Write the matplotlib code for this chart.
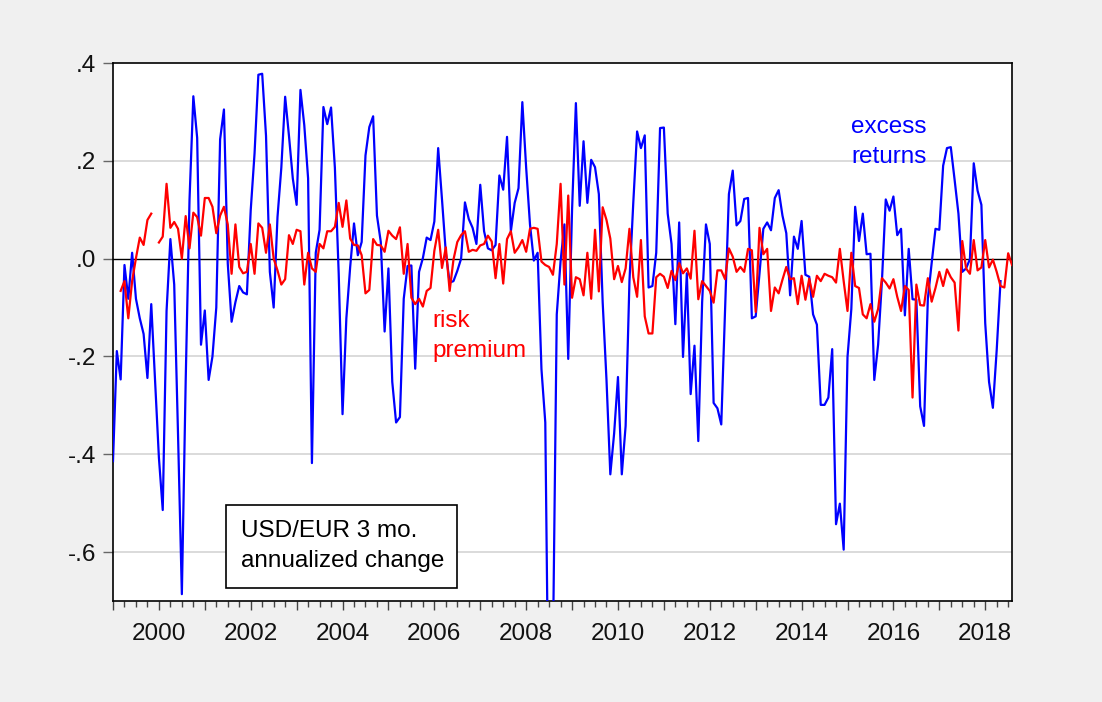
import numpy as np
import matplotlib
matplotlib.use("Agg")
import matplotlib.pyplot as plt
from matplotlib.patches import Rectangle
from matplotlib.ticker import FixedLocator, FixedFormatter

nan = np.nan
start_year = 1999
n_months = 236

excess_returns = [
    -0.414, -0.189, -0.247, -0.013, -0.082, 0.012, -0.082, -0.122, -0.154, -0.244,
    -0.093, -0.250, -0.407, -0.514, -0.107, 0.040, -0.053, -0.360, -0.686, -0.250,
    0.120, 0.332, 0.247, -0.176, -0.106, -0.248, -0.200, -0.100, 0.244, 0.305,
    -0.010, -0.129, -0.089, -0.056, -0.069, -0.073, 0.099, 0.215, 0.376, 0.378,
    0.251, -0.027, -0.100, 0.085, 0.186, 0.331, 0.251, 0.164, 0.110, 0.345,
    0.273, 0.164, -0.418, 0.012, 0.059, 0.310, 0.275, 0.309, 0.186, -0.031,
    -0.318, -0.122, -0.017, 0.072, 0.007, 0.034, 0.211, 0.269, 0.291, 0.088,
    0.034, -0.149, -0.020, -0.252, -0.335, -0.324, -0.082, -0.015, -0.014, -0.225,
    -0.027, 0.001, 0.043, 0.038, 0.076, 0.226, 0.121, 0.012, -0.049, -0.046,
    -0.025, 0.000, 0.115, 0.081, 0.063, 0.030, 0.151, 0.056, 0.021, 0.017,
    0.028, 0.170, 0.141, 0.249, 0.056, 0.114, 0.144, 0.320, 0.186, 0.070,
    -0.004, 0.012, -0.226, -0.335, -1.050, -0.800, -0.114, -0.005, 0.070, -0.205,
    0.100, 0.318, 0.108, 0.240, 0.114, 0.202, 0.187, 0.132, -0.089, -0.248,
    -0.441, -0.357, -0.242, -0.441, -0.342, -0.046, 0.114, 0.260, 0.226, 0.252,
    -0.059, -0.056, 0.012, 0.267, 0.268, 0.092, 0.030, -0.134, 0.074, -0.201,
    -0.030, -0.277, -0.178, -0.373, -0.089, 0.070, 0.030, -0.295, -0.306, -0.339,
    -0.103, 0.132, 0.180, 0.068, 0.077, 0.122, 0.124, -0.122, -0.118, -0.030,
    0.061, 0.074, 0.058, 0.124, 0.140, 0.088, 0.052, -0.075, 0.045, 0.020,
    0.077, -0.033, -0.037, -0.114, -0.135, -0.299, -0.299, -0.284, -0.185, -0.543,
    -0.501, -0.595, -0.201, -0.103, 0.106, 0.036, 0.092, 0.009, 0.010, -0.248,
    -0.176, -0.046, 0.121, 0.098, 0.127, 0.048, 0.061, -0.116, 0.020, -0.083,
    -0.084, -0.302, -0.342, -0.082, -0.009, 0.061, 0.059, 0.190, 0.226, 0.228,
    0.161, 0.092, -0.027, -0.020, -0.001, 0.195, 0.139, 0.110, -0.132, -0.252,
    -0.305, -0.187, -0.046, nan, nan, nan,
]

risk_premium = [
    0.027, nan, -0.066, -0.046, -0.122, -0.046, 0.001, 0.043, 0.028, 0.079,
    0.092, nan, 0.033, 0.045, 0.153, 0.063, 0.075, 0.061, 0.000, 0.087,
    0.021, 0.094, 0.085, 0.047, 0.124, 0.124, 0.106, 0.052, 0.088, 0.106,
    0.070, -0.031, 0.070, -0.017, -0.030, -0.027, 0.030, -0.031, 0.072, 0.063,
    0.012, 0.070, 0.000, -0.024, -0.053, -0.042, 0.048, 0.030, 0.059, 0.056,
    -0.053, 0.012, -0.020, -0.027, 0.030, 0.021, 0.056, 0.056, 0.065, 0.114,
    0.065, 0.119, 0.041, 0.028, 0.027, 0.007, -0.071, -0.064, 0.040, 0.028,
    0.027, 0.014, 0.057, 0.047, 0.040, 0.064, -0.031, 0.030, -0.080, -0.093,
    -0.082, -0.098, -0.066, -0.060, 0.016, 0.059, -0.019, 0.023, -0.066, -0.002,
    0.034, 0.048, 0.056, 0.014, 0.018, 0.016, 0.027, 0.030, 0.047, 0.035,
    -0.040, 0.030, -0.051, 0.040, 0.056, 0.012, 0.023, 0.038, 0.014, 0.061,
    0.063, 0.061, -0.006, -0.013, -0.017, -0.033, 0.030, 0.153, -0.053, 0.129,
    -0.080, -0.038, -0.042, -0.075, 0.012, -0.082, 0.059, -0.067, 0.105, 0.079,
    0.041, -0.042, -0.015, -0.048, -0.020, 0.061, -0.038, -0.078, 0.038, -0.118,
    -0.153, -0.153, -0.038, -0.031, -0.037, -0.060, -0.025, -0.044, -0.009, -0.030,
    -0.020, -0.041, 0.057, -0.083, -0.046, -0.056, -0.066, -0.090, -0.024, -0.024,
    -0.042, 0.021, 0.004, -0.027, -0.017, -0.027, 0.020, 0.017, -0.109, 0.063,
    0.009, 0.020, -0.107, -0.059, -0.071, -0.043, -0.017, -0.042, -0.040, -0.093,
    -0.035, -0.084, -0.041, -0.078, -0.035, -0.046, -0.031, -0.035, -0.038, -0.049,
    0.020, -0.046, -0.107, 0.012, -0.056, -0.060, -0.114, -0.122, -0.093, -0.129,
    -0.103, -0.040, -0.049, -0.061, -0.042, -0.078, -0.107, -0.056, -0.064, -0.284,
    -0.053, -0.095, -0.096, -0.040, -0.088, -0.060, -0.027, -0.056, -0.022, -0.038,
    -0.049, -0.147, 0.036, -0.020, -0.031, 0.038, -0.024, -0.018, 0.038, -0.018,
    -0.002, -0.027, -0.056, -0.059, 0.011, -0.013,
]

y_ticks = [-0.6, -0.4, -0.2, 0.0, 0.2, 0.4]
y_tick_labels = ["-.6", "-.4", "-.2", ".0", ".2", ".4"]
label_years = list(range(2000, 2019, 2))

t = start_year + np.arange(n_months) / 12.0
xr = np.array(excess_returns, dtype=float)
rp = np.array(risk_premium, dtype=float)

W, H = 1102, 702
fig = plt.figure(figsize=(W / 100, H / 100), dpi=100)
fig.patch.set_facecolor("#f0f0f0")
ax = fig.add_axes([113 / W, 1 - 601 / H, (1012 - 113) / W, (601 - 63) / H])
ax.set_facecolor("white")

FONT = "Liberation Sans"
FS = 17.5

for yv in y_ticks:
    if yv not in (0.0, 0.4):
        ax.axhline(yv, color="#d4d4d4", lw=1.2, zorder=1)
ax.axhline(0.0, color="black", lw=1.0, zorder=2)

ax.plot(t, xr, color="#0000ff", lw=1.6, zorder=3)
ax.plot(t, rp, color="#ff0000", lw=1.6, zorder=4)

ax.set_xlim(t[0], t[-1])
ax.set_ylim(-0.7, 0.4)

major_years = list(range(1999, 2019))
ax.xaxis.set_major_locator(FixedLocator(major_years))
ax.xaxis.set_major_formatter(FixedFormatter([str(y) if y in label_years else "" for y in major_years]))
ax.xaxis.set_minor_locator(FixedLocator([y + q / 4 for y in major_years for q in range(1, 4)]))
ax.yaxis.set_major_locator(FixedLocator(y_ticks))
ax.yaxis.set_major_formatter(FixedFormatter(y_tick_labels))

ax.tick_params(axis="x", which="major", direction="out", length=6.5, width=1.0, color="#444444", pad=9)
ax.tick_params(axis="x", which="minor", direction="out", length=4, width=1.0, color="#444444")
ax.tick_params(axis="y", which="major", direction="out", length=7, width=1.0, color="#666666", pad=5)
for lbl in ax.get_xticklabels() + ax.get_yticklabels():
    lbl.set_fontfamily(FONT)
    lbl.set_fontsize(FS)
    lbl.set_color("#111111")

for s in ax.spines.values():
    s.set_color("black")
    s.set_linewidth(1.2)

def px2data(px, py):
    x = start_year + (px - 114) / 45.9
    y = 0.4 - (py - 63) / 538 * 1.1
    return x, y

x0, y0 = px2data(852, 142)
ax.text(x0, y0, "excess\nreturns", color="#0000ff", fontsize=FS, family=FONT,
        ha="left", va="center", linespacing=1.45, zorder=5)
x1, y1 = px2data(433, 336)
ax.text(x1, y1, "risk\npremium", color="#ff0000", fontsize=FS, family=FONT,
        ha="left", va="center", linespacing=1.45, zorder=5)

bx0, by0 = px2data(227, 588)
bx1, by1 = px2data(458, 505)
ax.add_patch(Rectangle((bx0, by0), bx1 - bx0, by1 - by0, facecolor="white",
                       edgecolor="black", lw=1.2, zorder=6))
tx, ty = px2data(242, 546)
ax.text(tx, ty, "USD/EUR 3 mo.\nannualized change", color="black", fontsize=FS,
        family=FONT, ha="left", va="center", linespacing=1.5, zorder=7)

fig.savefig("out.png", dpi=100, facecolor=fig.get_facecolor())
